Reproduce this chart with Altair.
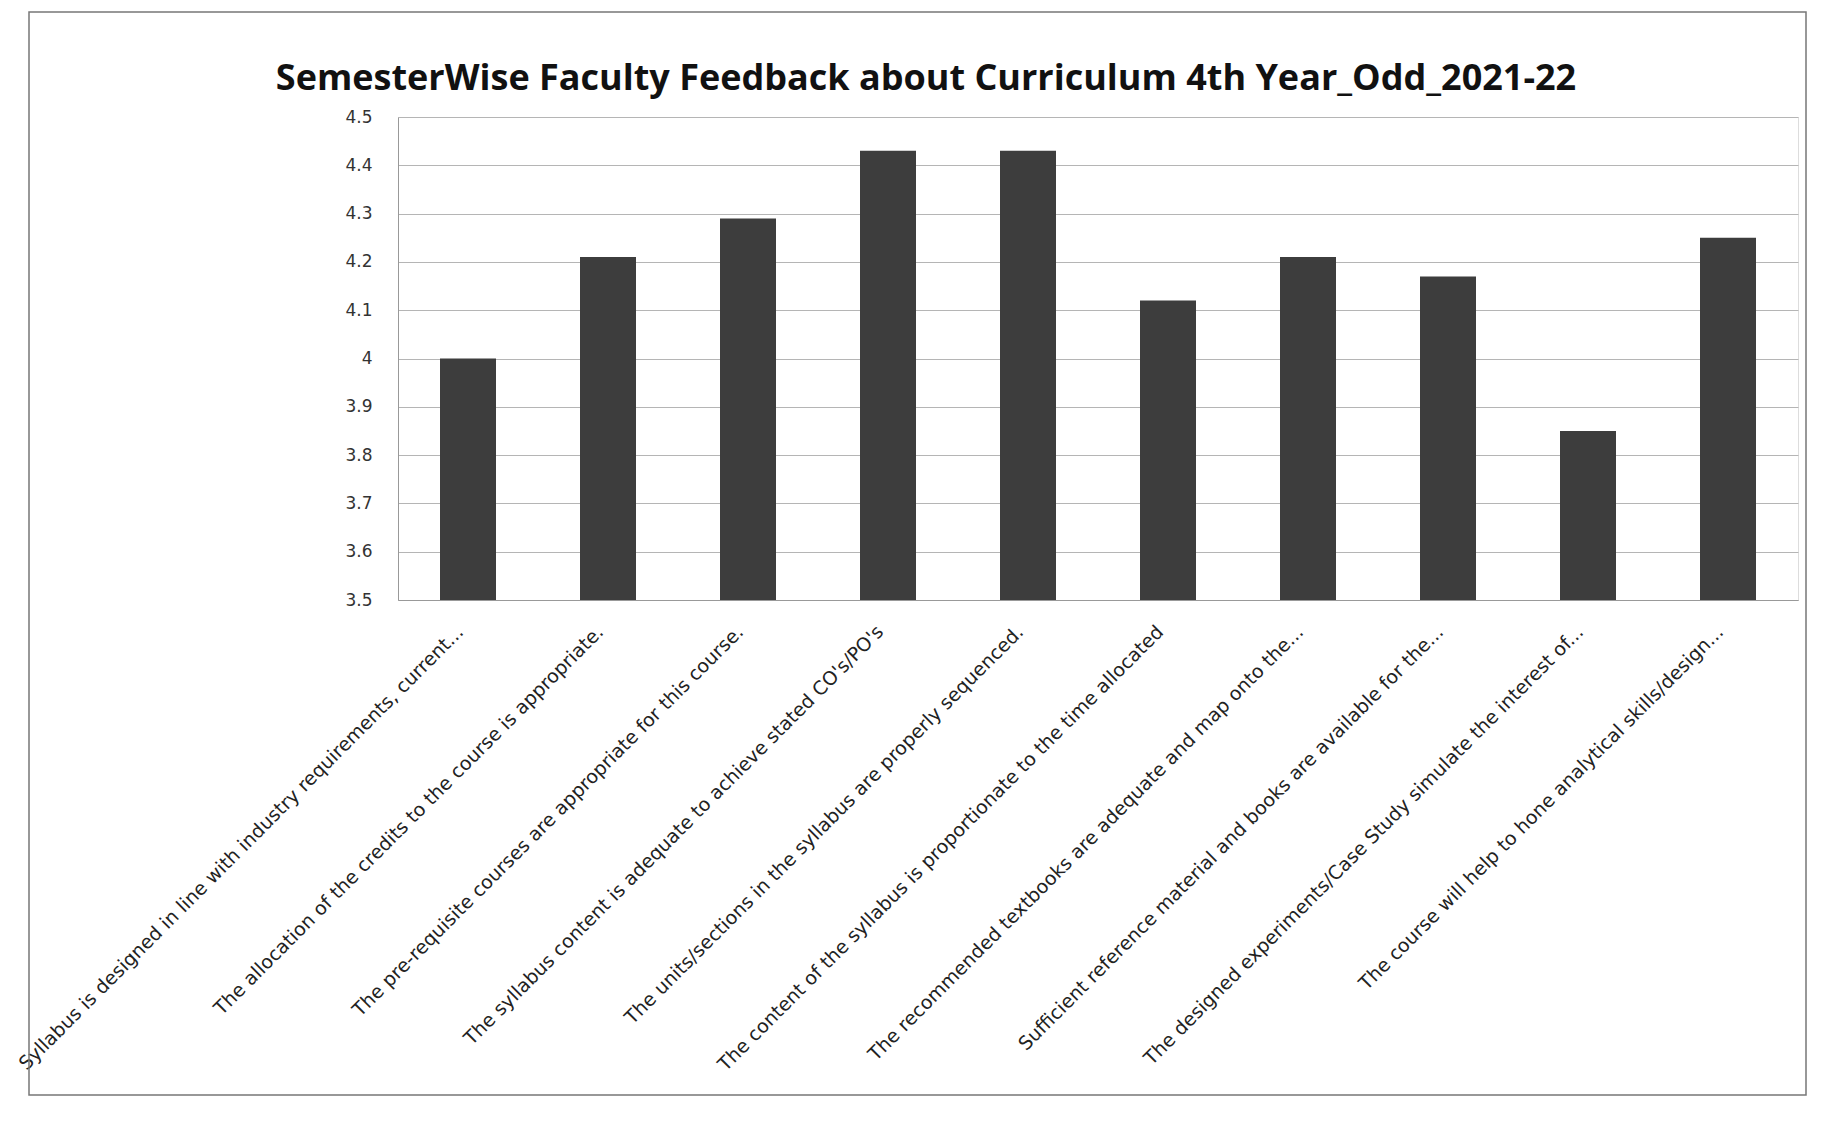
import altair as alt
import pandas as pd

title_text = "SemesterWise Faculty Feedback about Curriculum 4th Year_Odd_2021-22"
categories = [
    "Syllabus is designed in line with industry requirements, current...",
    "The allocation of the credits to the course is appropriate.",
    "The pre-requisite courses are appropriate for this course.",
    "The syllabus content is adequate to achieve stated CO's/PO's",
    "The units/sections in the syllabus are properly sequenced.",
    "The content of the syllabus is proportionate to the time allocated",
    "The recommended textbooks are adequate and map onto the...",
    "Sufficient reference material and books are available for the...",
    "The designed experiments/Case Study simulate the interest of...",
    "The course will help to hone analytical skills/design...",
]
values = [4.0, 4.21, 4.29, 4.43, 4.43, 4.12, 4.21, 4.17, 3.85, 4.25]
y_ticks = [3.5, 3.6, 3.7, 3.8, 3.9, 4.0, 4.1, 4.2, 4.3, 4.4, 4.5]

df = pd.DataFrame({"q": categories, "v": values})
tdf = pd.DataFrame({"t": [title_text]})

W, H = 1400, 483

bars = alt.Chart(df).mark_bar(color="#3d3d3d", clip=True).encode(
    x=alt.X("q:N", sort=None, title=None,
            scale=alt.Scale(paddingInner=0.6, paddingOuter=0.3),
            axis=alt.Axis(labelAngle=-45, labelLimit=900, labelFontSize=19,
                          labelFont="DejaVu Sans", labelColor="#222",
                          ticks=False, domainColor="#999", labelPadding=22,
                          labelOffset=-14)),
    y=alt.Y("v:Q", title=None,
            scale=alt.Scale(domain=[3.5, 4.5], zero=False, nice=False),
            axis=alt.Axis(values=y_ticks, format=".1~f", labelFontSize=17,
                          labelFont="DejaVu Sans", labelColor="#333",
                          ticks=False, domainColor="#999", gridColor="#b5b5b5",
                          labelPadding=26)),
)

frame = alt.Chart(tdf).mark_rect(fill=None, stroke="#777", strokeWidth=1.5).encode(
    x=alt.value(-369), x2=alt.value(1408), y=alt.value(-105), y2=alt.value(978)
)

title = alt.Chart(tdf).mark_text(
    font="Open Sans", fontSize=36, fontWeight="bold", color="#111",
    align="center", baseline="alphabetic"
).encode(text="t:N", x=alt.value(528), y=alt.value(-27))

chart = alt.layer(frame, bars, title).properties(
    width=W, height=H,
    autosize=alt.AutoSizeParams(type="none"),
    padding={"left": 390, "top": 109, "right": 30, "bottom": 500},
).configure_view(stroke=None).configure(background="white")

chart.save("out.html", embed_options={"renderer": "svg", "actions": False})
